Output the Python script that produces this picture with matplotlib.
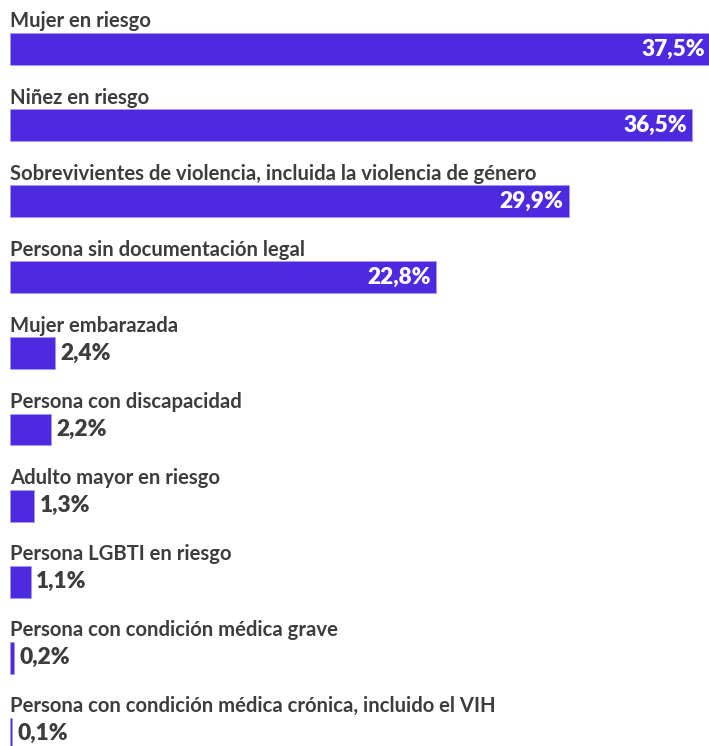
import matplotlib
matplotlib.use('Agg')
import matplotlib.pyplot as plt

# data
categories = ['Mujer en riesgo',
              'Niñez en riesgo',
              'Sobrevivientes de violencia, incluida la violencia de género',
              'Persona sin documentación legal',
              'Mujer embarazada',
              'Persona con discapacidad',
              'Adulto mayor en riesgo',
              'Persona LGBTI en riesgo',
              'Persona con condición médica grave',
              'Persona con condición médica crónica, incluido el VIH']
values = [37.5, 36.5, 29.9, 22.8, 2.4, 2.2, 1.3, 1.1, 0.2, 0.1]
value_labels = ['37,5%', '36,5%', '29,9%', '22,8%', '2,4%', '2,2%',
                '1,3%', '1,1%', '0,2%', '0,1%']

bar_color = '#4d2ae0'
text_color = '#3d3d3d'
plt.rcParams['font.family'] = ['Lato', 'DejaVu Sans']

fig = plt.figure(figsize=(7.09, 7.46), dpi=100)
ax = fig.add_axes([10 / 709, 0, 699 / 709, 1])

rows = list(range(len(categories)))
ax.barh(rows, values, height=0.42, color=bar_color, edgecolor='#a898f0', linewidth=0.6)

ax.set_xlim(0, 37.4)
ax.set_ylim(9.159, -0.644)

# category labels above bars
for i, cat in zip(rows, categories):
    ax.annotate(cat, xy=(0, i - 0.21), xytext=(0, 4), textcoords='offset points',
                ha='left', va='baseline', fontsize=14.6, fontweight='bold',
                color=text_color, annotation_clip=False)

# value labels, inside big bars, outside small ones
for i, v, lab in zip(rows, values, value_labels):
    if v > 10:
        ax.annotate(lab, xy=(v, i), xytext=(-4, 0), textcoords='offset points',
                    ha='right', va='center', fontsize=16.3, fontweight='heavy',
                    color='white', annotation_clip=False)
    else:
        ax.annotate(lab, xy=(v, i), xytext=(4, 0), textcoords='offset points',
                    ha='left', va='center', fontsize=16.3, fontweight='heavy',
                    color=text_color, annotation_clip=False)

ax.axis('off')

fig.savefig('out.png', dpi=100)
